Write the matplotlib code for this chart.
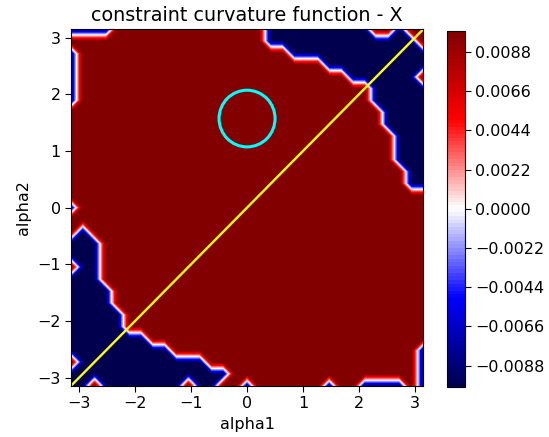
import numpy as np
import matplotlib.pyplot as plt

# grid of the sweep
n = 31
alpha = np.linspace(-np.pi, np.pi, n)
level = 0.0099

# sign map (col = alpha1 index, row = alpha2 index, bottom row = 0)
# top-right negative block: first negative column for rows 17..30
tr_rows = list(range(17, 31))
tr_first = [29, 29, 28, 28, 28, 27, 27, 26, 26, 24, 22, 19, 17, 17]
# bottom-left negative block: last negative column for rows 0..13
bl_rows = list(range(0, 14))
bl_last = [12, 13, 11, 8, 6, 4, 4, 3, 3, 2, 2, 2, 2, 1]
# single points with the other sign
flip_pos = [(0, 13), (0, 2), (2, 0), (10, 0), (0, 10),
            (26, 30), (27, 30), (29, 30), (30, 30), (30, 29), (30, 26)]
flip_neg = [(0, 15), (15, 0), (22, 0), (25, 0), (26, 0), (27, 0), (28, 0),
            (30, 0), (30, 1), (30, 2), (30, 3),
            (0, 24), (0, 25), (0, 26), (0, 27), (0, 28),
            (0, 30), (1, 30), (2, 30), (3, 30)]

Z = np.full((n, n), level)
for r, c in zip(tr_rows, tr_first):
    Z[r, c:] = -level
for r, c in zip(bl_rows, bl_last):
    Z[r, :c + 1] = -level
for c, r in flip_pos:
    Z[r, c] = level
for c, r in flip_neg:
    Z[r, c] = -level

A1, A2 = np.meshgrid(alpha, alpha)

plt.rcParams['font.size'] = 11.5
plt.rcParams['xtick.major.size'] = 4
plt.rcParams['ytick.major.size'] = 4

fig = plt.figure(figsize=(5.49, 4.37), dpi=100)
ax = fig.add_axes([0.1295, 0.1174, 0.641, 0.8151])
cax = fig.add_axes([0.8137, 0.1146, 0.0334, 0.8151])

cs = ax.contourf(A1, A2, Z, levels=100, cmap='seismic')
ax.plot([-np.pi, np.pi], [-np.pi, np.pi], color='yellow', lw=1.7)
ax.add_patch(plt.Circle((0, np.pi / 2), 0.5, fill=False, color='cyan', lw=2.2))
ax.set_xlim(-np.pi, np.pi)
ax.set_ylim(-np.pi, np.pi)
ax.set_xlabel('alpha1')
ax.set_ylabel('alpha2')
ax.set_title('constraint curvature function - X')

fig.colorbar(cs, cax=cax)

plt.savefig('out.png', dpi=100)
